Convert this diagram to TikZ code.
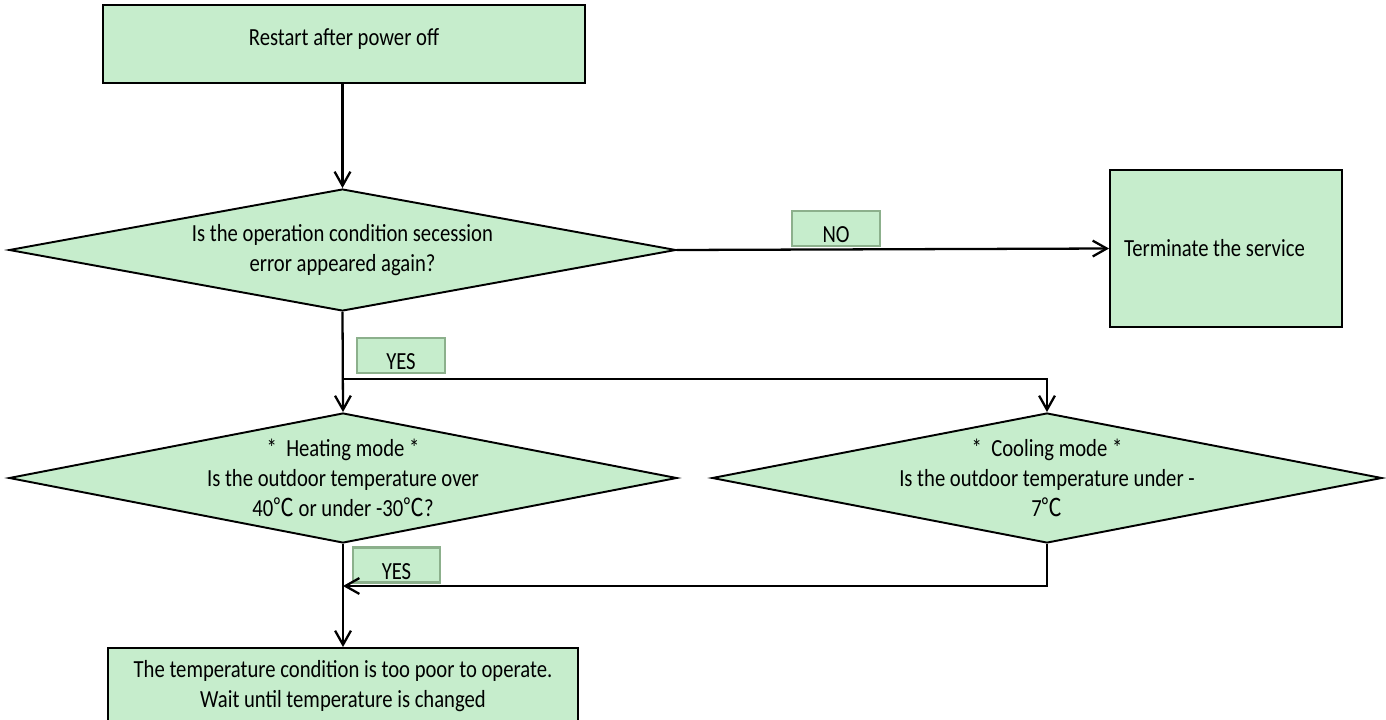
\documentclass[tikz,border=0pt]{standalone}
\usepackage{fontspec}
\setmainfont{Carlito}[FakeStretch=0.84]
\newfontfamily\cjkfont{Noto Sans CJK SC}[FakeStretch=0.84]
\usepackage{xcolor}
\usetikzlibrary{arrows.meta,shapes.geometric}
\definecolor{boxgreen}{RGB}{198,237,204}
\definecolor{tagedge}{RGB}{140,176,140}
\newcommand{\degc}{{\cjkfont ℃}}

\begin{document}
\begin{tikzpicture}[x=0.02cm, y=-0.02cm,
  font=\fontsize{14}{17}\selectfont,
  procbox/.style={rectangle, draw, fill=boxgreen, line width=1.1pt, align=center},
  decision/.style={diamond, draw, fill=boxgreen, line width=1.1pt, align=center,
    aspect=5.3, inner xsep=-2cm, inner ysep=-0.4cm},
  tagbox/.style={rectangle, draw=tagedge, fill=boxgreen, line width=1.5pt,
    minimum width=1.76cm, inner xsep=0pt, inner ysep=0pt, text height=0.63cm, text depth=0.07cm},
  flow/.style={line width=1.3pt, -{Straight Barb[length=8pt,width=9pt]}}]
\clip (0,0) rectangle (1386,720);

\node[procbox, minimum width=9.64cm, minimum height=1.56cm, text depth=0.3cm] (restart) at (344,44)
  {Restart after power off};
\node[decision, minimum width=13.34cm, minimum height=2.44cm] (secession) at (342.5,250)
  {Is the operation condition secession\\error appeared again?};
\node[procbox, minimum width=4.64cm, minimum height=3.14cm, text width=4.08cm, align=flush left,
  inner xsep=0.28cm] (terminate) at (1226,248.5) {Terminate the service};
\node[decision, minimum width=13.36cm, minimum height=2.6cm] (heating) at (343,478)
  {*~ Heating mode *\\Is the outdoor temperature over\\40\degc{} or under -30\degc?};
\node[decision, minimum width=13.4cm, minimum height=2.6cm] (cooling) at (1047,478)
  {*~ Cooling mode *\\Is the outdoor temperature under -\\7\degc};
\node[procbox, minimum width=9.42cm, minimum height=1.52cm] (waitbox) at (343,686)
  {The temperature condition is too poor to operate.\\Wait until temperature is changed};

\node[tagbox] (notag) at (836,228.5) {NO};
\node[tagbox] (yestop) at (401,355.5) {YES};
\node[tagbox, minimum width=1.74cm] (yesbottom) at (396.5,565) {YES};

\coordinate (split) at (343,379);
\coordinate (merge) at (343,586);

\draw[flow] (secession.north |- restart.south) -- (secession.north);
\draw[flow] (secession.east) -- (terminate.west);
\draw[flow] (secession.south) -- (heating.north);
\draw[flow] (split) -| (cooling.north);
\draw[flow] (cooling.south) |- (merge);
\draw[flow] (heating.south) -- (waitbox.north);
\end{tikzpicture}
\end{document}
